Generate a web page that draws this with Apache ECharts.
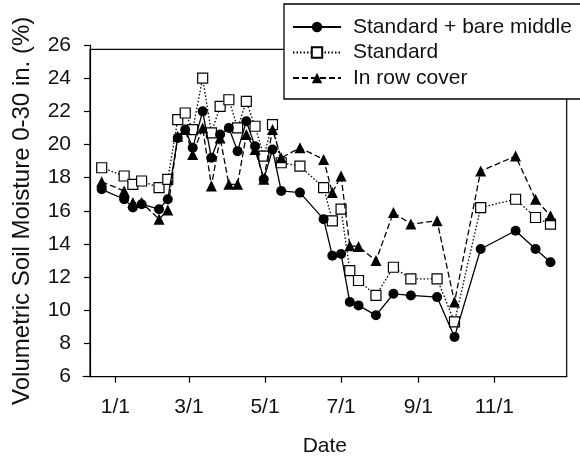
<!DOCTYPE html>
<html>
<head>
<meta charset="UTF-8">
<title>Soil moisture</title>
<style>
    html, body { margin: 0; padding: 0; background: #fff; }
    #chart { width: 580px; height: 462px; }
</style>
<script src="https://cdn.jsdelivr.net/npm/echarts@6/dist/echarts.min.js"></script>
</head>
<body>
<div id="chart"></div>
<script>
// sampling dates, as days from 1/1 (first one is in late December)
var days = [-11, 7, 14, 21, 35, 42, 50, 56, 62, 70, 77, 84, 91, 98, 105, 112, 119, 126, 133,
            148, 167, 174, 181, 188, 195, 209, 223, 237, 258, 272, 293, 321, 337, 349];

var bareMiddle = [17.3, 16.7, 16.2, 16.4, 16.1, 16.7, 20.4, 20.9, 19.8, 22.0, 19.2, 20.6, 21.0, 19.6, 21.4, 19.9, 17.9, 19.7, 17.2,
                  17.1, 15.5, 13.3, 13.4, 10.5, 10.3, 9.7, 11.0, 10.9, 10.8, 8.4, 13.7, 14.8, 13.7, 12.9];
var standard = [18.6, 18.1, 17.6, 17.8, 17.4, 17.9, 21.5, 21.9, 20.9, 24.0, 20.7, 22.3, 22.7, 21.0, 22.6, 21.1, 19.3, 21.2, 18.9,
                18.7, 17.4, 15.4, 16.1, 12.4, 11.8, 10.9, 12.6, 11.9, 11.9, 9.3, 16.2, 16.7, 15.6, 15.2];
var rowCover = [17.75, 17.2, 16.5, 16.5, 15.5, 16.05, 20.5, 20.9, 19.4, 21.0, 17.5, 20.4, 17.6, 17.6, 20.6, 19.7, 17.9, 20.9, 19.2,
                19.8, 19.1, 17.1, 18.1, 13.9, 13.85, 13.0, 15.9, 15.2, 15.4, 10.5, 18.4, 19.3, 16.7, 15.7];

var tickDays = [0, 59, 120, 181, 243, 304];
var tickLabels = ['1/1', '3/1', '5/1', '7/1', '9/1', '11/1'];

function pairs(vals) {
    var out = [];
    for (var i = 0; i < days.length; i++) out.push([days[i], vals[i]]);
    return out;
}

var font = 'Liberation Sans, Arial, sans-serif';
var ink = '#111';

var chart = echarts.init(document.getElementById('chart'));
chart.setOption({
    animation: false,
    backgroundColor: '#fff',
    textStyle: { fontFamily: font },
    grid: [
        { left: 83, right: 13.3, top: 45, bottom: 85.3 },
        // plain frame round the plot
        { left: 90, right: 13.3, top: 49.3, bottom: 85.3, show: true, borderColor: '#000', borderWidth: 1.2, backgroundColor: 'transparent' }
    ],
    legend: {
        orient: 'vertical',
        left: 284,
        top: 4,
        padding: [12.5, 330, 10.5, 8],
        itemWidth: 48,
        itemHeight: 13,
        itemGap: 4.5,
        backgroundColor: '#fff',
        borderColor: '#000',
        borderWidth: 1.3,
        textStyle: { fontSize: 21, color: ink, fontFamily: font, padding: [0, 0, 0, 7] },
        data: ['Standard + bare middle', 'Standard', 'In row cover']
    },
    xAxis: [
        {
            type: 'value',
            gridIndex: 0,
            min: -26,
            max: 362,
            name: 'Date',
            nameLocation: 'middle',
            nameGap: 59,
            nameTextStyle: { fontSize: 21, color: ink, fontFamily: font },
            axisLine: { onZero: false, lineStyle: { color: '#000', width: 1.2 } },
            axisTick: { length: 6, customValues: tickDays, lineStyle: { color: '#000', width: 1.2 } },
            axisLabel: {
                customValues: tickDays,
                margin: 20,
                fontSize: 21,
                color: ink,
                fontFamily: font,
                formatter: function (v) { return tickLabels[tickDays.indexOf(v)]; }
            },
            splitLine: { show: false }
        },
        { type: 'value', gridIndex: 1, show: false, min: 0, max: 1 }
    ],
    yAxis: [
        {
            type: 'value',
            gridIndex: 0,
            min: 6,
            max: 26,
            interval: 2,
            offset: -7,
            name: 'Volumetric Soil Moisture 0-30 in. (%)',
            nameLocation: 'middle',
            nameGap: 56,
            nameTextStyle: { fontSize: 24, color: ink, fontFamily: font },
            axisLine: { show: true, onZero: false, lineStyle: { color: '#000', width: 1.2 } },
            axisTick: { show: true, length: 6, lineStyle: { color: '#000', width: 1.2 } },
            axisLabel: { margin: 19, fontSize: 21, color: ink, fontFamily: font },
            splitLine: { show: false }
        },
        { type: 'value', gridIndex: 1, show: false, min: 0, max: 1 }
    ],
    series: [
        {
            name: 'Standard',
            type: 'line',
            z: 2,
            data: pairs(standard),
            symbol: 'rect',
            symbolSize: 10,
            itemStyle: { color: '#fff', borderColor: '#000', borderWidth: 1.2 },
            lineStyle: { color: '#000', width: 1.3, type: [1.5, 2] }
        },
        {
            name: 'In row cover',
            type: 'line',
            z: 3,
            data: pairs(rowCover),
            symbol: 'triangle',
            symbolSize: 11,
            itemStyle: { color: '#000' },
            lineStyle: { color: '#000', width: 1.3, type: [6, 3] }
        },
        {
            name: 'Standard + bare middle',
            type: 'line',
            z: 4,
            data: pairs(bareMiddle),
            symbol: 'circle',
            symbolSize: 10,
            itemStyle: { color: '#000' },
            lineStyle: { color: '#000', width: 1.3 }
        }
    ]
});
</script>
</body>
</html>
